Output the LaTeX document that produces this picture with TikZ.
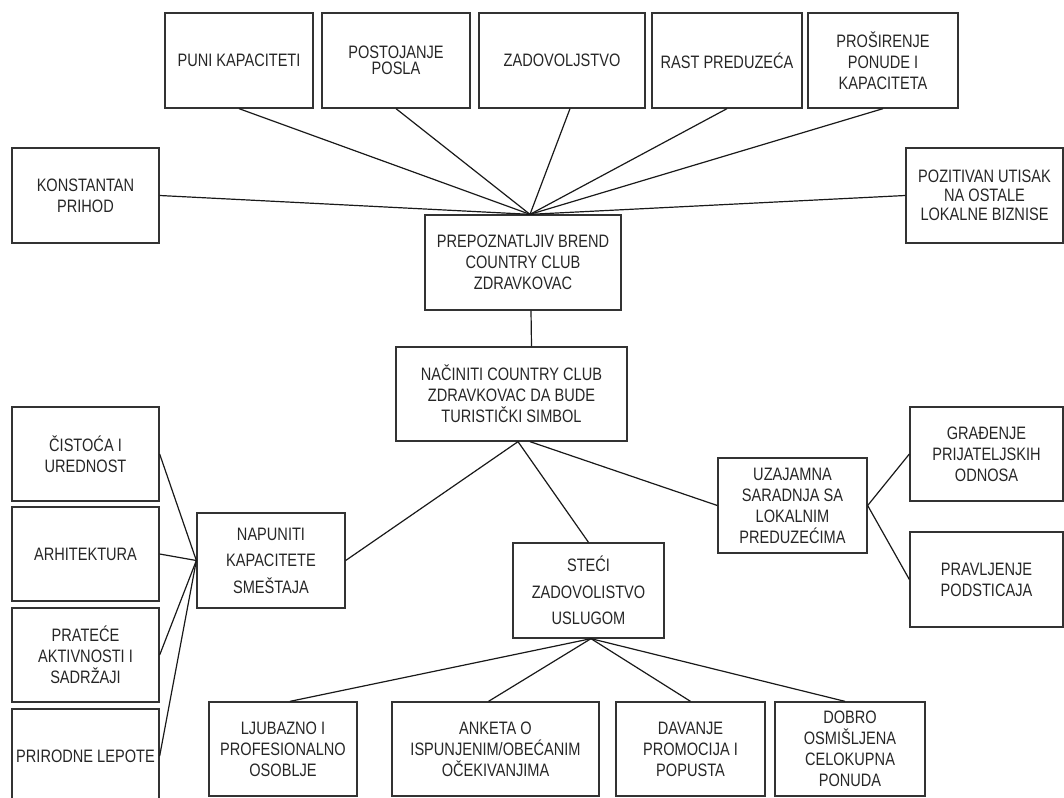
\documentclass[tikz,border=0pt]{standalone}
\usepackage{fontspec}
\setmainfont{Liberation Sans}[FakeStretch=0.81]
\usetikzlibrary{calc}
\begin{document}
\begin{tikzpicture}[x=1pt,y=-1pt,
  box/.style={draw=black!80, line width=1.3pt, align=center, inner sep=0pt,
    text=black!85, font=\fontsize{18}{21}\selectfont},
  link/.style={draw=black!90, line width=1.2pt}]
\useasboundingbox (0,0) rectangle (1064,797);
% top row
\node[box, minimum width=148, minimum height=95] (puni) at (239,60.5) {PUNI KAPACITETI};
\node[box, minimum width=148, minimum height=95, font=\fontsize{18}{16}\selectfont] (post) at (396,60.5) {POSTOJANJE\\POSLA};
\node[box, minimum width=166, minimum height=95] (zad) at (562,60.5) {ZADOVOLJSTVO};
\node[box, minimum width=150, minimum height=95] (rast) at (727,60.5) {RAST PREDUZEĆA};
\node[box, minimum width=150, minimum height=95] (pros) at (883,60.5) {PROŠIRENJE\\PONUDE I\\KAPACITETA};
\node[box, minimum width=147, minimum height=95] (konst) at (85.5,195.5) {KONSTANTAN\\PRIHOD};
\node[box, minimum width=157, minimum height=95, font=\fontsize{18}{19}\selectfont] (poz) at (984.5,195.5) {POZITIVAN UTISAK\\NA OSTALE\\LOKALNE BIZNISE};
% center
\node[box, minimum width=196, minimum height=95] (brend) at (523,262.5) {PREPOZNATLJIV BREND\\COUNTRY CLUB\\ZDRAVKOVAC};
\node[box, minimum width=231, minimum height=94] (nac) at (511.5,394) {NAČINITI COUNTRY CLUB\\ZDRAVKOVAC DA BUDE\\TURISTIČKI SIMBOL};
% left column
\node[box, minimum width=147, minimum height=94] (cist) at (85.5,454) {ČISTOĆA I\\UREDNOST};
\node[box, minimum width=147, minimum height=94] (arh) at (85.5,554) {ARHITEKTURA};
\node[box, minimum width=147, minimum height=94] (prat) at (85.5,655) {PRATEĆE\\AKTIVNOSTI I\\SADRŽAJI};
\node[box, minimum width=147, minimum height=94] (prir) at (85.5,756) {PRIRODNE LEPOTE};
% middle level
\node[box, minimum width=148, minimum height=95, font=\fontsize{18}{26.5}\selectfont] (nap) at (271,560.5) {NAPUNITI\\KAPACITETE\\SMEŠTAJA};
\node[box, minimum width=151, minimum height=95, font=\fontsize{18}{26.5}\selectfont] (stec) at (588.5,590.5) {STEĆI\\ZADOVOLISTVO\\USLUGOM};
\node[box, minimum width=149, minimum height=95] (uzaj) at (792.5,505.5) {UZAJAMNA\\SARADNJA SA\\LOKALNIM\\PREDUZEĆIMA};
% right column
\node[box, minimum width=153, minimum height=94] (grad) at (986.5,454) {GRAĐENJE\\PRIJATELJSKIH\\ODNOSA};
\node[box, minimum width=153, minimum height=95] (prav) at (986.5,579.5) {PRAVLJENJE\\PODSTICAJA};
% bottom row
\node[box, minimum width=148, minimum height=94] (ljub) at (283,749) {LJUBAZNO I\\PROFESIONALNO\\OSOBLJE};
\node[box, minimum width=207, minimum height=94] (ank) at (495.5,749) {ANKETA O\\ISPUNJENIM/OBEĆANIM\\OČEKIVANJIMA};
\node[box, minimum width=149, minimum height=94] (dav) at (690.5,749) {DAVANJE\\PROMOCIJA I\\POPUSTA};
\node[box, minimum width=150, minimum height=94] (dob) at (850,749) {DOBRO\\OSMIŠLJENA\\CELOKUPNA\\PONUDA};
% connection points
\coordinate (bt) at ($(brend.north)+(7,0)$);
\coordinate (nb1) at ($(nac.south)+(6.5,0)$);
\coordinate (nb2) at ($(nac.south)+(18.5,0)$);
% connectors
\draw[link] (puni.south) -- (bt);
\draw[link] (post.south) -- (bt);
\draw[link] ($(zad.south)+(8,0)$) -- (bt);
\draw[link] (rast.south) -- (bt);
\draw[link] (pros.south) -- (bt);
\draw[link] (konst.east) -- (bt);
\draw[link] (poz.west) -- (bt);
\draw[link] ($(brend.south)+(8,0)$) -- ($(nac.north)+(20,0)$);
\draw[link] (nap.east) -- (nb1);
\draw[link] (stec.north) -- (nb1);
\draw[link] (uzaj.west) -- (nb2);
\draw[link] (cist.east) -- (nap.west);
\draw[link] (arh.east) -- (nap.west);
\draw[link] (prat.east) -- (nap.west);
\draw[link] (prir.east) -- (nap.west);
\draw[link] (uzaj.east) -- (grad.west);
\draw[link] (uzaj.east) -- (prav.west);
\draw[link] ($(stec.south)+(2.5,0)$) -- ($(ljub.north)+(7,0)$);
\draw[link] ($(stec.south)+(2.5,0)$) -- ($(ank.north)+(-7,0)$);
\draw[link] ($(stec.south)+(2.5,0)$) -- (dav.north);
\draw[link] ($(stec.south)+(2.5,0)$) -- ($(dob.north)+(-5,0)$);
\end{tikzpicture}
\end{document}
